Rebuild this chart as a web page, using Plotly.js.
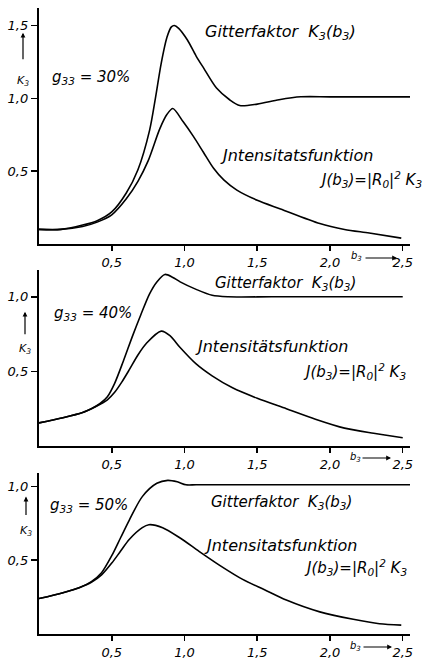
<!DOCTYPE html>
<html>
<head>
<meta charset="utf-8">
<script src="https://cdn.plot.ly/plotly-3.0.1.min.js"></script>
<style>html,body{margin:0;padding:0;background:#fff}#chart{width:447px;height:663px}</style>
</head>
<body>
<div id="chart"></div>
<script>
// ---- Panel 1: g33 = 30 %
const b_K3_30 = [0, 0.15, 0.3, 0.4, 0.5, 0.6, 0.68, 0.76, 0.8, 0.84, 0.88, 0.91, 0.93, 0.96, 1.02, 1.08, 1.13, 1.22, 1.31, 1.38, 1.5, 1.65, 1.8, 2.0, 2.55];
const K3_30   = [0.10, 0.10, 0.13, 0.16, 0.22, 0.35, 0.51, 0.78, 1.00, 1.24, 1.42, 1.49, 1.50, 1.48, 1.40, 1.29, 1.21, 1.07, 0.99, 0.95, 0.96, 0.99, 1.01, 1.01, 1.01];
const b_J_30  = [0, 0.15, 0.3, 0.4, 0.5, 0.6, 0.68, 0.75, 0.83, 0.88, 0.92, 0.99, 1.06, 1.13, 1.2, 1.27, 1.36, 1.5, 1.66, 1.93, 2.1, 2.27, 2.49];
const J_30    = [0.10, 0.10, 0.12, 0.15, 0.20, 0.31, 0.43, 0.57, 0.79, 0.89, 0.93, 0.84, 0.74, 0.63, 0.52, 0.44, 0.37, 0.30, 0.24, 0.14, 0.10, 0.075, 0.04];
// ---- Panel 2: g33 = 40 %
const b_K3_40 = [0, 0.165, 0.3, 0.36, 0.42, 0.47, 0.52, 0.58, 0.64, 0.7, 0.76, 0.81, 0.865, 0.92, 0.97, 1.08, 1.19, 1.3, 1.6, 2.0, 2.5];
const K3_40   = [0.155, 0.19, 0.225, 0.25, 0.285, 0.33, 0.42, 0.57, 0.73, 0.88, 1.02, 1.10, 1.15, 1.13, 1.10, 1.05, 1.01, 1.0, 1.0, 1.0, 1.0];
const b_J_40  = [0, 0.165, 0.3, 0.36, 0.42, 0.47, 0.52, 0.57, 0.62, 0.68, 0.74, 0.84, 0.9, 0.97, 1.08, 1.19, 1.33, 1.5, 1.7, 1.9, 2.1, 2.3, 2.5];
const J_40    = [0.155, 0.19, 0.225, 0.25, 0.28, 0.31, 0.36, 0.43, 0.51, 0.61, 0.69, 0.77, 0.74, 0.66, 0.55, 0.47, 0.39, 0.32, 0.25, 0.18, 0.12, 0.085, 0.055];
// ---- Panel 3: g33 = 50 %
const b_K3_50 = [0, 0.165, 0.28, 0.36, 0.43, 0.5, 0.56, 0.62, 0.71, 0.81, 0.885, 0.95, 1.01, 1.08, 1.5, 2.0, 2.56];
const K3_50   = [0.24, 0.28, 0.315, 0.355, 0.415, 0.53, 0.65, 0.77, 0.93, 1.02, 1.04, 1.03, 1.01, 1.01, 1.01, 1.01, 1.01];
const b_J_50  = [0, 0.165, 0.28, 0.36, 0.43, 0.5, 0.56, 0.62, 0.71, 0.755, 0.85, 0.97, 1.1, 1.25, 1.4, 1.55, 1.7, 1.93, 2.16, 2.34, 2.49];
const J_50    = [0.24, 0.28, 0.315, 0.35, 0.40, 0.48, 0.56, 0.64, 0.72, 0.74, 0.72, 0.65, 0.56, 0.46, 0.37, 0.30, 0.23, 0.15, 0.10, 0.07, 0.06];

const xTickVals = [0.5, 1.0, 1.5, 2.0, 2.5];
const xTickText = ['0,5', '1,0', '1,5', '2,0', '2,5'];
const yTickVals1 = [0.5, 1.0, 1.5];
const yTickText1 = ['0,5', '1,0', '1,5'];
const yTickVals23 = [0.5, 1.0];
const yTickText23 = ['0,5', '1,0'];

const FONT = 'DejaVu Sans, Liberation Sans, sans-serif';
const tf = {family: FONT, size: 13, color: '#000', style: 'italic'};

function line(x, y, xa, ya) {
  return {x: x, y: y, xaxis: xa, yaxis: ya, type: 'scatter', mode: 'lines',
          line: {color: '#000', width: 1.6, shape: 'spline', smoothing: 0.8},
          hoverinfo: 'skip', showlegend: false};
}
const data = [
  line(b_K3_30, K3_30, 'x', 'y'), line(b_J_30, J_30, 'x', 'y'),
  line(b_K3_40, K3_40, 'x2', 'y2'), line(b_J_40, J_40, 'x2', 'y2'),
  line(b_K3_50, K3_50, 'x3', 'y3'), line(b_J_50, J_50, 'x3', 'y3')
];

function xax(anchor) {
  return {anchor: anchor, domain: [0, 1], range: [0, 2.55], showline: true, linewidth: 2.2,
          linecolor: '#000', ticks: 'outside', ticklen: 5, tickwidth: 1.5, tickcolor: '#000',
          showgrid: false, zeroline: false, tickvals: xTickVals, ticktext: xTickText,
          tickfont: tf, fixedrange: true};
}
function yax(anchor, dom, rng, tv, tt) {
  return {anchor: anchor, domain: dom, range: rng, showline: true, linewidth: 2.2,
          linecolor: '#000', ticks: 'outside', ticklen: 6, tickwidth: 1.5, tickcolor: '#000',
          showgrid: false, zeroline: false, tickvals: tv, ticktext: tt, tickfont: tf,
          fixedrange: true};
}

const W = 447, H = 663, L = 39, R = 37;
const px = v => (v - L) / (W - L - R);
const py = v => (H - v) / H;

const txt = (text, x, y, xref, yref, xanchor, size) => ({
  text: text, x: x, y: y, xref: xref, yref: yref, xanchor: xanchor || 'left', yanchor: 'middle',
  showarrow: false, font: {family: FONT, size: size || 14, color: '#000', style: 'italic'}
});
const arrow = (x, y, xref, yref, ax, ay) => ({
  text: '', x: x, y: y, xref: xref, yref: yref, showarrow: true, ax: ax, ay: ay,
  arrowhead: 2, arrowsize: 0.8, arrowwidth: 1.2, arrowcolor: '#000'
});

const GIT = 'Gitterfaktor  K<sub>3</sub>(b<sub>3</sub>)';
const FORM = 'J(b<sub>3</sub>)=|R<sub>0</sub>|<sup>2</sup> K<sub>3</sub>';

const annotations = [
  // panel 1
  txt('g<sub>33</sub> = 30%', 0.075, 1.14, 'x', 'y', 'left', 15),
  txt(GIT, 1.13, 1.45, 'x', 'y', 'left', 16),
  txt('Jntensitatsfunktion', 1.23, 0.61, 'x', 'y', 'left', 16),
  txt(FORM, px(424), 0.44, 'paper', 'y', 'right', 15),
  arrow(px(23), 1.45, 'paper', 'y', 0, 28),
  txt('K<sub>3</sub>', px(23), 1.12, 'paper', 'y', 'center', 11),
  txt('b<sub>3</sub>', px(356), py(257), 'paper', 'paper', 'center', 10),
  arrow(px(397), py(258), 'paper', 'paper', -33, 0),
  // panel 2
  txt('g<sub>33</sub> = 40%', 0.09, 0.89, 'x2', 'y2', 'left', 15),
  txt(GIT, 1.195, 1.09, 'x2', 'y2', 'left', 15),
  txt('Jntensitätsfunktion', 1.06, 0.67, 'x2', 'y2', 'left', 16),
  txt(FORM, px(408), 0.50, 'paper', 'y2', 'right', 15),
  arrow(px(25), 0.90, 'paper', 'y2', 0, 24),
  txt('K<sub>3</sub>', px(25), 0.65, 'paper', 'y2', 'center', 11),
  txt('b<sub>3</sub>', px(355), py(457), 'paper', 'paper', 'center', 10),
  arrow(px(391), py(458), 'paper', 'paper', -30, 0),
  // panel 3
  txt('g<sub>33</sub> = 50%', 0.06, 0.87, 'x3', 'y3', 'left', 15),
  txt(GIT, 1.17, 0.89, 'x3', 'y3', 'left', 15),
  txt('Jntensitatsfunktion', 1.12, 0.60, 'x3', 'y3', 'left', 16),
  txt(FORM, px(409), 0.45, 'paper', 'y3', 'right', 15),
  arrow(px(26), 0.93, 'paper', 'y3', 0, 20),
  txt('K<sub>3</sub>', px(26), 0.70, 'paper', 'y3', 'center', 11),
  txt('b<sub>3</sub>', px(355), py(646), 'paper', 'paper', 'center', 10),
  arrow(px(392), py(647), 'paper', 'paper', -30, 0)
];

const layout = {
  width: W, height: H,
  margin: {l: L, r: R, t: 0, b: 0},
  paper_bgcolor: '#fff', plot_bgcolor: '#fff',
  showlegend: false,
  xaxis: xax('y'), yaxis: yax('x', [0.632, 0.988], [0, 1.62], yTickVals1, yTickText1),
  xaxis2: xax('y2'), yaxis2: yax('x2', [0.3273, 0.5928], [0, 1.18], yTickVals23, yTickText23),
  xaxis3: xax('y3'), yaxis3: yax('x3', [0.0437, 0.2866], [0, 1.09], yTickVals23, yTickText23),
  annotations: annotations
};

Plotly.newPlot('chart', data, layout, {staticPlot: true, displayModeBar: false});
</script>
</body>
</html>
